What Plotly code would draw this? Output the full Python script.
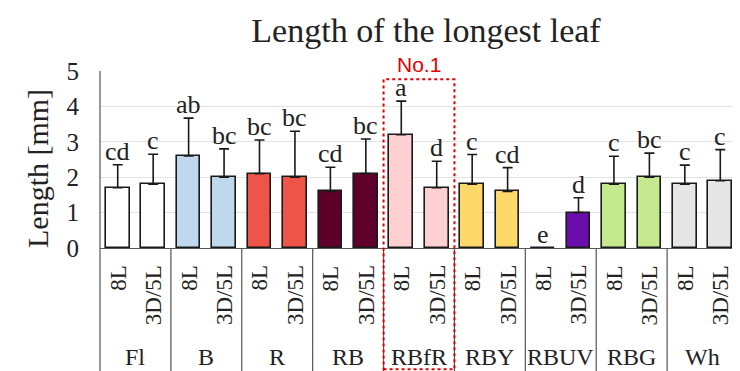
import plotly.graph_objects as go

groups = ["Fl", "B", "R", "RB", "RBfR", "RBY", "RBUV", "RBG", "Wh"]
conditions = ["8L", "3D/5L"]
values_8L = [1.7, 2.6, 2.1, 1.6, 3.2, 1.8, 0.0, 1.8, 1.8]
values_3D = [1.8, 2.0, 2.0, 2.1, 1.7, 1.6, 1.0, 2.0, 1.9]
err_8L = [0.65, 1.07, 0.95, 0.68, 0.95, 0.84, 0.0, 0.79, 0.54]
err_3D = [0.85, 0.80, 1.30, 0.98, 0.75, 0.67, 0.42, 0.68, 0.88]
letters_8L = ["cd", "ab", "bc", "cd", "a", "c", "e", "c", "c"]
letters_3D = ["c", "bc", "bc", "bc", "d", "cd", "d", "bc", "c"]
group_colors = ["#FFFFFF", "#C0D8EE", "#EF5449", "#5E0029", "#FFD0D2",
                "#FFD86A", "#6A0DAD", "#C4E98F", "#E6E6E6"]
highlight_group = "RBfR"
highlight_label = "No.1"

SERIF = "Liberation Serif, Times New Roman, serif"
n = len(groups)
ncols = n * 2

# page has an 8px body margin, so the figure is drawn 8px smaller
W, H = 732, 363
OFF = 8

xs, ys, errs, cols, labels, conds = [], [], [], [], [], []
for i, g in enumerate(groups):
    for j, (vals, er, lets) in enumerate([(values_8L, err_8L, letters_8L),
                                          (values_3D, err_3D, letters_3D)]):
        xs.append(2 * i + j + 0.5)
        ys.append(vals[i])
        errs.append(er[i])
        cols.append(group_colors[i])
        labels.append(lets[i])
        conds.append(conditions[j])

fig = go.Figure()
fig.add_trace(go.Bar(
    x=xs, y=ys, width=0.67,
    marker=dict(color=cols, line=dict(color="#1a1a1a", width=1.6)),
    error_y=dict(type="data", symmetric=False, array=errs,
                 arrayminus=[0] * len(errs), color="#1a1a1a",
                 thickness=1.6, width=5),
    showlegend=False, hoverinfo="skip",
))

ann = []
for x, y, e, t in zip(xs, ys, errs, labels):
    ann.append(dict(x=x, y=y + e, xref="x", yref="y", text=t, showarrow=False,
                    xanchor="center", yanchor="bottom", yshift=-2,
                    borderpad=0,
                    font=dict(family=SERIF, size=26, color="#222")))
for x, c in zip(xs, conds):
    ann.append(dict(x=x, y=-0.085, xref="x", yref="paper", text=c,
                    showarrow=False, textangle=-90, xanchor="center",
                    yanchor="top",
                    font=dict(family=SERIF, size=23, color="#222")))
for i, g in enumerate(groups):
    ann.append(dict(x=2 * i + 1, y=-0.613, xref="x", yref="paper", text=g,
                    showarrow=False, xanchor="center", yanchor="middle",
                    font=dict(family=SERIF, size=24, color="#222")))
ann.append(dict(x=-0.099, y=0.451, xref="paper", yref="paper",
                text="Length [mm]", showarrow=False, textangle=-90,
                xanchor="center", yanchor="middle",
                font=dict(family=SERIF, size=30, color="#222")))
hi = groups.index(highlight_group)
ann.append(dict(x=(2 * hi + 1) / ncols, y=1.037, xref="paper", yref="paper",
                text=highlight_label, showarrow=False, xanchor="center",
                yanchor="middle", borderpad=0,
                font=dict(family="Liberation Sans, Arial, sans-serif",
                          size=21, color="#E00000")))

shapes = []
bottom = -0.70
for k in range(1, n):
    shapes.append(dict(type="line", xref="paper", yref="paper",
                       x0=k / n, x1=k / n, y0=bottom, y1=0,
                       line=dict(color="#555", width=1.2)))
shapes.append(dict(type="line", xref="paper", yref="paper", x0=0, x1=0,
                   y0=bottom, y1=1, line=dict(color="#555", width=1.2)))
shapes.append(dict(type="rect", xref="paper", yref="paper",
                   x0=(2 * hi) / ncols, x1=(2 * hi + 2) / ncols,
                   y0=-0.685, y1=0.953,
                   line=dict(color="#E00000", width=2, dash="dot")))

fig.update_layout(
    width=W, height=H,
    margin=dict(l=100 - OFF, r=2, t=71 - OFF, b=123, pad=0),
    paper_bgcolor="white", plot_bgcolor="white",
    title=dict(text="Length of the longest leaf", x=(426 - OFF) / W,
               y=1 - (30 - OFF) / H,
               xref="container", yref="container", xanchor="center",
               yanchor="middle",
               font=dict(family=SERIF, size=34, color="#222")),
    xaxis=dict(range=[0, ncols], showticklabels=False, showgrid=False,
               zeroline=False, showline=True, linecolor="#555", linewidth=1.2,
               ticks=""),
    yaxis=dict(range=[0, 5], dtick=1, showgrid=True, gridcolor="#E3E3E3",
               gridwidth=1.2, zeroline=False, showline=False, ticks="",
               ticklabelstandoff=20,
               tickfont=dict(family=SERIF, size=25, color="#222")),
    annotations=ann, shapes=shapes,
    bargap=0,
)

fig.write_html("out.html")
